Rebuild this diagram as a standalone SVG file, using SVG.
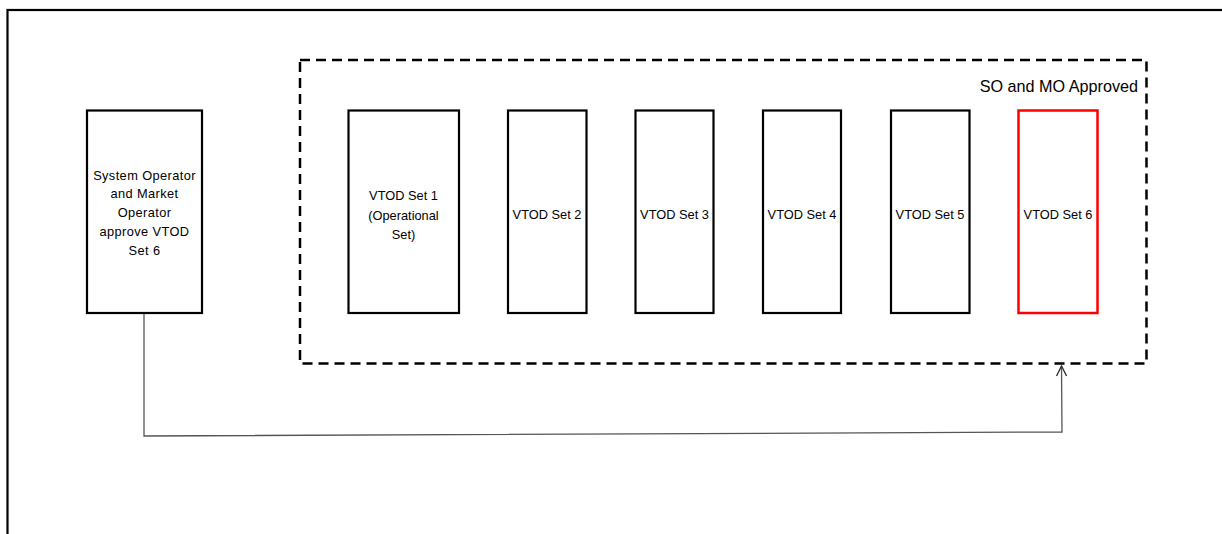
<svg xmlns="http://www.w3.org/2000/svg" width="1222" height="534" viewBox="0 0 1222 534">
<defs>
<style>
.box{fill:#fff;stroke:#000;stroke-width:2.2}
.red{fill:#fff;stroke:#ff0000;stroke-width:2.5}
.t{font-family:"Liberation Sans",Arial,sans-serif;font-size:12.8px;fill:#000;text-anchor:middle}
.tl{font-family:"Liberation Sans",Arial,sans-serif;font-size:12.8px;letter-spacing:0.4px;fill:#000;text-anchor:middle}
.conn{fill:none;stroke:#555;stroke-width:1.3}
</style>
<marker id="arr" viewBox="0 0 12 12" refX="11" refY="6" markerWidth="12" markerHeight="12" markerUnits="userSpaceOnUse" orient="auto">
<path d="M1,1 L11,6 L1,11" fill="none" stroke="#333" stroke-width="1.4"/>
</marker>
</defs>
<rect width="1222" height="534" fill="#fff"/>
<rect x="7.5" y="10" width="1300" height="600" fill="none" stroke="#000" stroke-width="2.2"/>
<g id="group-approved">
<rect x="300" y="60" width="846.5" height="303.5" fill="none" stroke="#000" stroke-width="2.5" stroke-dasharray="10 6"/>
<text x="1138" y="91.5" font-family="'Liberation Sans',Arial,sans-serif" font-size="16.2px" text-anchor="end" fill="#000">SO and MO Approved</text>
</g>
<g id="connectors">
<polyline class="conn" points="144,313 144,436 1062,432 1061.5,366" marker-end="url(#arr)"/>
</g>
<g id="node-approve">
<rect class="box" x="87" y="110.5" width="115" height="202.5"/>
<text class="tl" x="144.5" y="179.5">System Operator</text>
<text class="tl" x="144.5" y="198.3">and Market</text>
<text class="tl" x="144.5" y="217.1">Operator</text>
<text class="tl" x="144.5" y="235.9">approve VTOD</text>
<text class="tl" x="144.5" y="254.7">Set 6</text>
</g>
<g id="node-set1">
<rect class="box" x="348.5" y="110.5" width="110.5" height="202.5"/>
<text class="t" x="403.5" y="200">VTOD Set 1</text>
<text class="t" x="403.5" y="219.5" font-size="13.5px">(Operational</text>
<text class="t" x="403.5" y="239" font-size="13.5px">Set)</text>
</g>
<g id="node-set2">
<rect class="box" x="508" y="110.5" width="78.5" height="202.5"/>
<text class="t" x="547" y="218.5">VTOD Set 2</text>
</g>
<g id="node-set3">
<rect class="box" x="635.5" y="110.5" width="78" height="202.5"/>
<text class="t" x="674.5" y="218.5">VTOD Set 3</text>
</g>
<g id="node-set4">
<rect class="box" x="763" y="110.5" width="78" height="202.5"/>
<text class="t" x="802" y="218.5">VTOD Set 4</text>
</g>
<g id="node-set5">
<rect class="box" x="891" y="110.5" width="78.5" height="202.5"/>
<text class="t" x="930" y="218.5">VTOD Set 5</text>
</g>
<g id="node-set6">
<rect class="red" x="1018.5" y="110.5" width="79" height="202.5"/>
<text class="t" x="1058" y="218.5">VTOD Set 6</text>
</g>
</svg>
